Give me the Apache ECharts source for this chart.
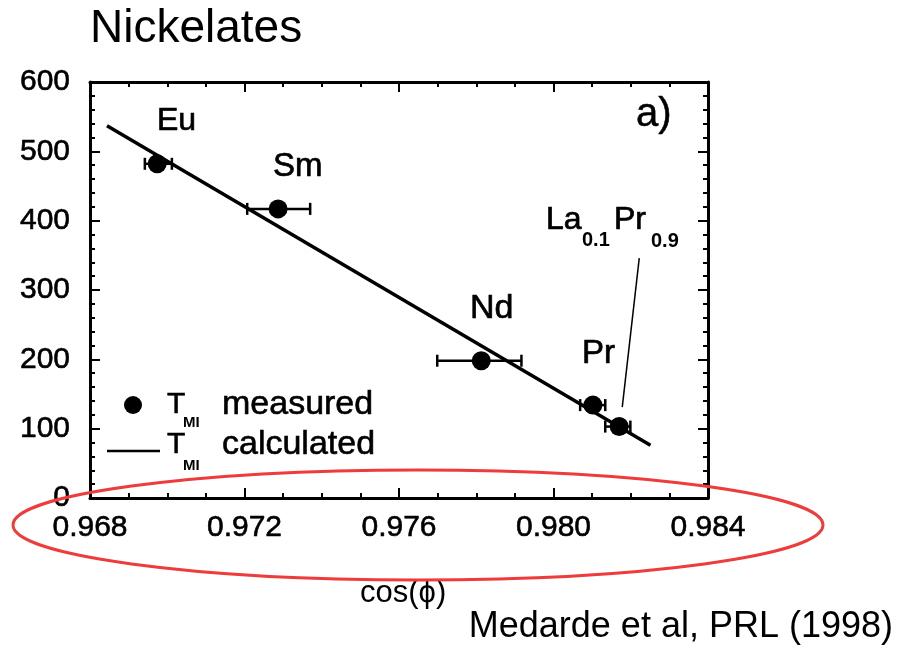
<!DOCTYPE html>
<html>
<head>
<meta charset="utf-8">
<script src="https://cdn.jsdelivr.net/npm/echarts@6/dist/echarts.min.js"></script>
<style>
html,body{margin:0;padding:0;background:#fff;}
#chart{width:903px;height:648px;}
</style>
</head>
<body>
<div id="chart"></div>
<script>
// ---- data ----
var names = ['Eu', 'Sm', 'Nd', 'Pr', 'La0.1Pr0.9'];
var cosPhi = [0.96974, 0.97287, 0.97813, 0.98102, 0.98170];
var tMI = [482, 417, 198, 134, 103];
var errLo = [0.96942, 0.97207, 0.97699, 0.98069, 0.98134];
var errHi = [0.97012, 0.97370, 0.97917, 0.98134, 0.98199];
var fitX = [0.96844, 0.98251];
var fitY = [537, 76];
var leaderX = [0.98222, 0.98178];
var leaderY = [346, 131];
var xTicks = [0.968, 0.972, 0.976, 0.980, 0.984];
var yTicks = [0, 100, 200, 300, 400, 500, 600];

var FONT = '"Liberation Sans", Arial, Helvetica, sans-serif';
var chart = echarts.init(document.getElementById('chart'), null, {renderer: 'canvas'});

var pts = cosPhi.map(function (x, i) { return [x, tMI[i]]; });
var errs = cosPhi.map(function (x, i) { return [x, tMI[i], errLo[i], errHi[i]]; });
var fit = fitX.map(function (x, i) { return [x, fitY[i]]; });
var leader = leaderX.map(function (x, i) { return [x, leaderY[i]]; });

function axisCommon() {
  return {
    axisLine: {show: true, onZero: false, lineStyle: {color: '#000', width: 3}},
    axisTick: {show: true, inside: true, length: 10, lineStyle: {color: '#000', width: 2}},
    minorTick: {show: true, length: 5, lineStyle: {color: '#000', width: 2}},
    splitLine: {show: false}
  };
}
var lblStyle = {fontSize: 30, color: '#000', fontFamily: FONT, textBorderColor: '#000', textBorderWidth: 0.6};
var xb = axisCommon(), xt = axisCommon(), yl = axisCommon(), yr = axisCommon();
Object.assign(xb, {type: 'value', min: xTicks[0], max: xTicks[xTicks.length - 1], interval: 0.004, position: 'bottom',
  axisLabel: Object.assign({margin: 15, formatter: function (v) { return v.toFixed(3); }}, lblStyle)});
xb.minorTick.splitNumber = 4;
Object.assign(xt, {type: 'value', min: xTicks[0], max: xTicks[xTicks.length - 1], interval: 0.004, position: 'top', axisLabel: {show: false}});
xt.minorTick.splitNumber = 4;
Object.assign(yl, {type: 'value', min: yTicks[0], max: yTicks[yTicks.length - 1], interval: 100, position: 'left',
  axisLabel: Object.assign({margin: 20}, lblStyle)});
yl.minorTick.splitNumber = 5;
Object.assign(yr, {type: 'value', min: yTicks[0], max: yTicks[yTicks.length - 1], interval: 100, position: 'right', axisLabel: {show: false}});
yr.minorTick.splitNumber = 5;

function txt(text, x, y, size, opts) {
  opts = opts || {};
  var st = {
    text: text, x: x, y: y, fill: '#000',
    font: (opts.bold ? 'bold ' : '') + size + 'px ' + FONT,
    align: opts.align || 'left', verticalAlign: 'middle'
  };
  if (opts.heavy) { st.stroke = '#000'; st.lineWidth = opts.heavy; }
  return {type: 'text', z: 100, style: st};
}

var option = {
  animation: false,
  backgroundColor: '#fff',
  grid: {left: 90, top: 82, width: 618, height: 416, containLabel: false},
  xAxis: [xb, xt],
  yAxis: [yl, yr],
  series: [
    {
      type: 'custom', xAxisIndex: 0, yAxisIndex: 0, z: 3,
      data: errs,
      renderItem: function (params, api) {
        var y = api.value(1);
        var a = api.coord([api.value(2), y]);
        var b = api.coord([api.value(3), y]);
        var h = 6;
        var st = {stroke: '#000', lineWidth: 2.5};
        return {
          type: 'group', children: [
            {type: 'line', shape: {x1: a[0], y1: a[1], x2: b[0], y2: b[1]}, style: st},
            {type: 'line', shape: {x1: a[0], y1: a[1] - h, x2: a[0], y2: a[1] + h}, style: st},
            {type: 'line', shape: {x1: b[0], y1: b[1] - h, x2: b[0], y2: b[1] + h}, style: st}
          ]
        };
      }
    },
    {
      type: 'line', data: fit, showSymbol: false, symbol: 'none', z: 4,
      lineStyle: {color: '#000', width: 3.5}
    },
    {
      type: 'line', data: leader, showSymbol: false, symbol: 'none', z: 4,
      lineStyle: {color: '#000', width: 1.5}
    },
    {
      type: 'scatter', data: pts, symbol: 'circle', symbolSize: 19, z: 5,
      itemStyle: {color: '#000', opacity: 1}
    }
  ],
  graphic: [
    txt('Nickelates', 90, 29, 46),
    txt('Eu', 157, 121, 32, {heavy: 0.7}),
    txt('Sm', 273, 167, 33, {heavy: 0.7}),
    txt('Nd', 470, 309, 34, {heavy: 0.7}),
    txt('Pr', 582, 354, 33, {heavy: 0.7}),
    txt('La', 546, 220, 32, {heavy: 0.7}),
    txt('0.1', 582, 240, 20, {bold: true}),
    txt('Pr', 614, 220, 32, {heavy: 0.7}),
    txt('0.9', 651, 241, 20, {bold: true}),
    txt('a)', 636, 115, 40, {heavy: 0.5}),
    {type: 'circle', shape: {cx: 133, cy: 405, r: 9}, style: {fill: '#000'}, z: 100},
    txt('T', 167, 405, 30, {heavy: 0.6}),
    txt('MI', 183, 423, 15, {bold: true}),
    txt('measured', 222, 405, 34, {heavy: 0.6}),
    {type: 'line', shape: {x1: 107, y1: 451, x2: 160, y2: 451}, style: {stroke: '#000', lineWidth: 2.5}, z: 100},
    txt('T', 167, 445, 30, {heavy: 0.6}),
    txt('MI', 183, 466, 15, {bold: true}),
    txt('calculated', 222, 445, 34, {heavy: 0.6}),
    txt('cos(\u03d5)', 360, 593, 31),
    txt('Medarde et al, PRL (1998)', 893, 627, 36, {align: 'right'}),
    {type: 'ellipse', shape: {cx: 418, cy: 525, rx: 405, ry: 55}, style: {fill: 'none', stroke: '#ee3b3b', lineWidth: 3}, z: 100}
  ]
};
chart.setOption(option);
</script>
</body>
</html>
